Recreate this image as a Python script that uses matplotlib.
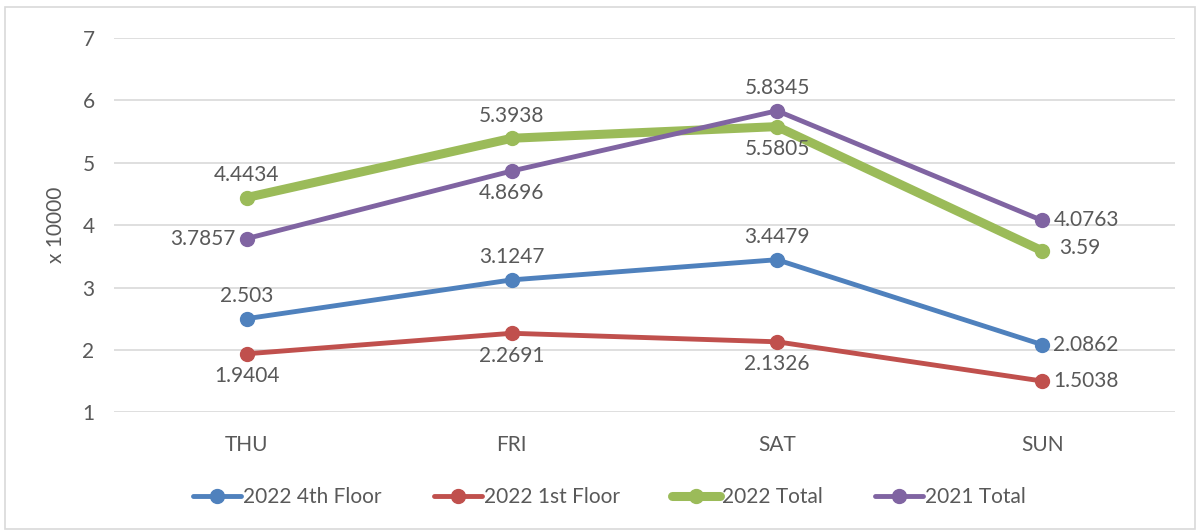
import matplotlib
matplotlib.use("Agg")
import matplotlib.pyplot as plt
from matplotlib.patches import Rectangle

plt.rcParams['font.family'] = ['Lato', 'DejaVu Sans']

days = ["THU", "FRI", "SAT", "SUN"]
floor4_2022 = [2.503, 3.1247, 3.4479, 2.0862]
floor1_2022 = [1.9404, 2.2691, 2.1326, 1.5038]
total_2022 = [4.4434, 5.3938, 5.5805, 3.59]
total_2021 = [3.7857, 4.8696, 5.8345, 4.0763]
series_names = ["2022 4th Floor", "2022 1st Floor", "2022 Total", "2021 Total"]
yticks = [1, 2, 3, 4, 5, 6, 7]

colors = ["#4F81BD", "#C0504D", "#9BBB59", "#8064A2"]
widths = [3.5, 3.5, 6.5, 3.5]
txt = "#595959"
fs = 15

# label placements
placements = [
    [("c", "above"), ("c", "above"), ("c", "above"), ("r", None)],
    [("c", "below"), ("c", "below"), ("c", "below"), ("r", None)],
    [("c", "above"), ("c", "above"), ("c", "below"), ("r2", None)],
    [("l", None), ("c", "below"), ("c", "above"), ("r", None)],
]

fig = plt.figure(figsize=(12, 5.31), dpi=100)
ax = fig.add_axes([0.095, 0.2232, 0.884, 0.7052])
x = list(range(len(days)))
data = [floor4_2022, floor1_2022, total_2022, total_2021]
for vals, name, c, lw, pl in zip(data, series_names, colors, widths, placements):
    ax.plot(x, vals, color=c, lw=lw, marker="o", markersize=10, label=name,
            solid_capstyle="round", zorder=3)
    for xi, v, (h, vpos) in zip(x, vals, pl):
        s = f"{v:g}"
        if h == "r":
            ax.annotate(s, (xi, v), xytext=(8, 0), textcoords="offset points",
                        ha="left", va="center", fontsize=fs, color=txt)
        elif h == "r2":
            ax.annotate(s, (xi, v), xytext=(12, 2), textcoords="offset points",
                        ha="left", va="center", fontsize=fs, color=txt)
        elif h == "l":
            ax.annotate(s, (xi, v), xytext=(-8, 0), textcoords="offset points",
                        ha="right", va="center", fontsize=fs, color=txt)
        elif vpos == "above":
            ax.annotate(s, (xi, v), xytext=(0, 9), textcoords="offset points",
                        ha="center", va="bottom", fontsize=fs, color=txt)
        else:
            ax.annotate(s, (xi, v), xytext=(0, -9), textcoords="offset points",
                        ha="center", va="top", fontsize=fs, color=txt)

ax.set_xlim(-0.5, len(days) - 0.5)
ax.set_ylim(1, 7)
ax.set_yticks(yticks)
ax.set_yticklabels([str(t) for t in yticks], fontsize=fs, color=txt)
ax.set_xticks(x)
ax.set_xticklabels(days, fontsize=fs, color=txt)
ax.tick_params(axis="both", length=0)
ax.tick_params(axis="y", pad=14)
ax.tick_params(axis="x", pad=16)
ax.grid(axis="y", color="#D9D9D9", lw=1.2, zorder=0)
for sp in ax.spines.values():
    sp.set_visible(False)
ax.set_ylabel("x 10000", fontsize=fs, color=txt, labelpad=12)

leg = fig.legend(loc="center", bbox_to_anchor=(0.508, 0.064), ncol=4, frameon=False,
                 fontsize=fs, handlelength=2.3, handletextpad=0.1, columnspacing=2.5,
                 labelcolor=txt)

fig.patches.append(Rectangle((0.004, 0.004), 0.992, 0.983, transform=fig.transFigure,
                             fill=False, edgecolor="#D9D9D9", lw=1.2))

fig.savefig("out.png", dpi=100, facecolor="white")
